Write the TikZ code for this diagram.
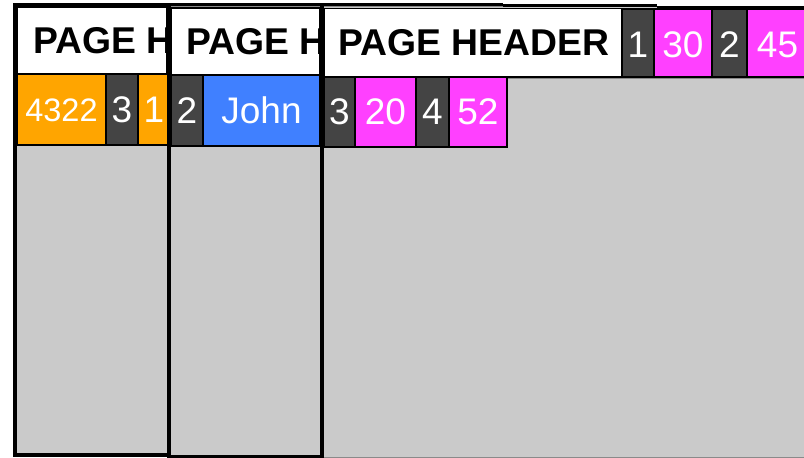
\documentclass[tikz,border=0pt]{standalone}
\usepackage{fontspec}
\setmainfont{Liberation Sans}
\definecolor{cOrange}{HTML}{FFA500}
\definecolor{cDark}{HTML}{444444}
\definecolor{cBlue}{HTML}{4080FF}
\definecolor{cMag}{HTML}{FF40FF}
\definecolor{cGray}{HTML}{CACACA}
\definecolor{cEdge}{HTML}{8A8A8A}
\tikzset{
  cellbox/.style={draw=black, line width=1.3pt, inner sep=0pt, outer sep=0pt, anchor=north west},
  hdrbox/.style={draw=black, line width=1.2pt, fill=white, inner sep=0pt, outer sep=0pt, anchor=north west},
  hdrtext/.style={font=\bfseries\fontsize{37.3}{37.3}\selectfont, anchor=base west, inner sep=0pt},
  celltext/.style={text=white, anchor=base, inner sep=0pt},
  frameline/.style={draw=black, line width=4pt},
  topline/.style={draw=black},
  pagefill/.style={fill=cGray, draw=cEdge, line width=0.8pt},
}
\newcommand\mkcell[9]{%
  \node[cellbox, fill=#6, minimum width=#4pt, minimum height=#5pt] (#1) at (#2,#3) {};
  \node[celltext, font=\fontsize{#9}{#9}\selectfont] (#1t) at (#1.center |- 0,#8) {#7};}
\begin{document}
\begin{tikzpicture}[x=1pt,y=-1pt]
\useasboundingbox (0,0) rectangle (804,458);
\clip (0,0) rectangle (804,458);
\fill[white] (0,0) rectangle (804,458);
% ---------- page 1 ----------
\path[pagefill] (16,6) rectangle (169,453);
\node[hdrbox, minimum width=150pt, minimum height=67pt] (h1) at (17,7) {};
\begin{scope}
  \clip (17,7) rectangle (167,74);
  \node[hdrtext] (h1t) at (33,53) {PAGE H};
\end{scope}
\mkcell{o1}{17}{74}{89}{71}{cOrange}{4322}{121}{32.5}
\mkcell{d1}{106}{74}{32}{71}{cDark}{3}{122}{37}
\mkcell{o2}{138}{74}{32}{71}{cOrange}{1}{122}{37}
\draw[frameline] (14.9,3) -- (14.9,455.3) -- (169,455.3);
% ---------- page 2 ----------
\path[pagefill] (169,6) rectangle (322,455);
\node[hdrbox, minimum width=149pt, minimum height=67pt] (h2) at (171,8) {};
\begin{scope}
  \clip (171,8) rectangle (320,75);
  \node[hdrtext] (h2t) at (186,54) {PAGE H};
\end{scope}
\mkcell{d2}{171}{75}{32}{71}{cDark}{2}{123}{37}
\mkcell{b1}{203}{75}{117}{71}{cBlue}{John}{123}{37}
\draw[frameline] (169.2,3) -- (169.2,456.5) -- (322,456.5);
% ---------- page 3 ----------
\path[pagefill] (322,6) rectangle (810,457);
\draw[cEdge, line width=0.8pt] (507,78) -- (804,78);
\node[hdrbox, minimum width=298pt, minimum height=68.5pt] (h3) at (324,8.5) {};
\begin{scope}
  \clip (324,8.5) rectangle (622,77);
  \node[hdrtext] (h3t) at (338,55) {PAGE HEADER};
\end{scope}
\mkcell{d3}{324}{77}{31}{70}{cDark}{3}{124}{37}
\mkcell{m1}{355}{77}{61}{70}{cMag}{20}{124}{37}
\mkcell{d4}{416}{77}{33}{70}{cDark}{4}{124}{37}
\mkcell{m2}{449}{77}{58}{70}{cMag}{52}{124}{37}
\mkcell{d5}{622}{9}{32}{68}{cDark}{1}{57}{37}
\mkcell{m3}{654}{9}{58}{68}{cMag}{30}{57}{37}
\mkcell{d6}{712}{9}{35}{68}{cDark}{2}{57}{37}
\mkcell{m4}{747}{9}{61}{68}{cMag}{45}{57}{37}
\draw[frameline] (322.3,3) -- (322.3,458);
% ---------- top edges ----------
\draw[topline, line width=3.2pt] (13,4.6) -- (503,4.6);
\draw[topline, line width=2.6pt] (503,5.4) -- (657,5.4);
\draw[topline, line width=1.6pt] (657,7.2) -- (804,7.2);
\end{tikzpicture}
\end{document}
